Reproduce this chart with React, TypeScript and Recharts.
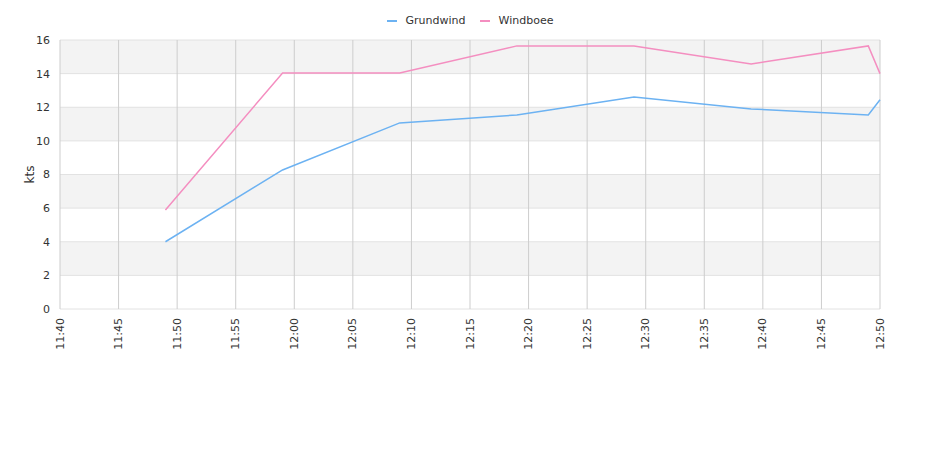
import { LineChart, Line, XAxis, YAxis, CartesianGrid } from 'recharts'

const times = ['11:49', '11:59', '12:09', '12:19', '12:29', '12:39', '12:49', '12:50']
const grundwind = [4.0, 8.27, 11.07, 11.54, 12.61, 11.9, 11.54, 12.45]
const windboee = [5.89, 14.04, 14.04, 15.65, 15.65, 14.57, 15.65, 14.0]
const xTickLabels = [
  '11:40', '11:45', '11:50', '11:55', '12:00', '12:05', '12:10', '12:15',
  '12:20', '12:25', '12:30', '12:35', '12:40', '12:45', '12:50'
]
const yTicks = [0, 2, 4, 6, 8, 10, 12, 14, 16]

const BLUE = '#6cb2f2'
const PINK = '#f48ec0'
const FONT = '"DejaVu Sans", sans-serif'

const toMin = (t: string) => {
  const [h, m] = t.split(':').map(Number)
  return h * 60 + m
}
const fmt = (v: number) => {
  const h = Math.floor(v / 60)
  const m = v % 60
  return `${h}:${m < 10 ? '0' : ''}${m}`
}

const chartData = times.map((t, i) => ({
  t: toMin(t),
  Grundwind: grundwind[i],
  Windboee: windboee[i]
}))
const xTicks = xTickLabels.map(toMin)

const XTick = (props: any) => {
  const { x, y, payload } = props
  return (
    <text
      x={x}
      y={y}
      transform={`rotate(-90, ${x}, ${y})`}
      textAnchor="end"
      dominantBaseline="central"
      fontSize={11}
      fill="#333"
      fontFamily={FONT}
    >
      {fmt(payload.value)}
    </text>
  )
}

const YLabel = (props: any) => {
  const { viewBox } = props
  const cx = 30
  const cy = viewBox.y + viewBox.height / 2
  return (
    <text
      x={cx}
      y={cy}
      transform={`rotate(-90, ${cx}, ${cy})`}
      textAnchor="middle"
      dominantBaseline="central"
      fontSize={12}
      fill="#333"
      fontFamily={FONT}
    >
      kts
    </text>
  )
}

function LegendBar() {
  const items = [
    { name: 'Grundwind', color: BLUE },
    { name: 'Windboee', color: PINK }
  ]
  return (
    <div
      style={{
        position: 'absolute',
        top: 14,
        left: 0,
        width: 940,
        display: 'flex',
        justifyContent: 'center',
        fontFamily: FONT,
        fontSize: 11,
        color: '#333'
      }}
    >
      {items.map((it) => (
        <div key={it.name} style={{ display: 'flex', alignItems: 'center', margin: '0 7px' }}>
          <span style={{ display: 'inline-block', width: 10, height: 2, background: it.color, marginRight: 9 }} />
          <span>{it.name}</span>
        </div>
      ))}
    </div>
  )
}

export default function App() {
  return (
    <div style={{ position: 'absolute', top: 0, left: 0, width: 940, height: 450, background: '#fff' }}>
      <LegendBar />
      <LineChart
        width={940}
        height={450}
        data={chartData}
        margin={{ top: 40, right: 60, left: 0, bottom: 0 }}
      >
        <CartesianGrid vertical={false} stroke="#e2e2e2" horizontalFill={['#f3f3f3', '#ffffff']} />
        <CartesianGrid horizontal={false} stroke="#cdcdcd" />
        <XAxis
          dataKey="t"
          type="number"
          domain={[xTicks[0], xTicks[xTicks.length - 1]]}
          ticks={xTicks}
          interval={0}
          height={141}
          axisLine={false}
          tickLine={false}
          tick={<XTick />}
          tickMargin={3}
        />
        <YAxis
          domain={[0, 16]}
          ticks={yTicks}
          width={60}
          axisLine={false}
          tickLine={false}
          tick={{ fontSize: 11, fill: '#333', fontFamily: FONT }}
          tickMargin={4}
          label={<YLabel />}
        />
        <Line
          type="linear"
          dataKey="Grundwind"
          stroke={BLUE}
          strokeWidth={1.5}
          dot={false}
          isAnimationActive={false}
        />
        <Line
          type="linear"
          dataKey="Windboee"
          stroke={PINK}
          strokeWidth={1.5}
          dot={false}
          isAnimationActive={false}
        />
      </LineChart>
    </div>
  )
}
